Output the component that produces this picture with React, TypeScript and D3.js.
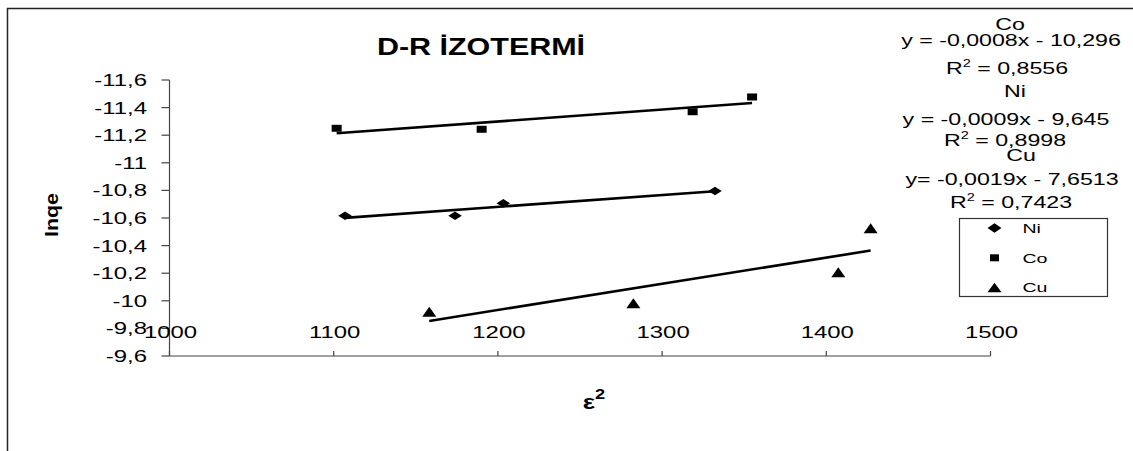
import React from "react";
import * as d3 from "d3";

// ---- data ----
const NI_X = [1106.9, 1173.9, 1203.3, 1332.2];
const NI_Y = [-10.617, -10.617, -10.706, -10.796];
const CO_X = [1101.8, 1190.1, 1318.6, 1354.8];
const CO_Y = [-11.25, -11.243, -11.37, -11.477];
const CU_X = [1158.2, 1282.5, 1407.3, 1427.0];
const CU_Y = [-9.921, -9.982, -10.207, -10.525];

const SERIES_NAMES = ["Ni", "Co", "Cu"];
const X_DOMAIN = [1000, 1500];
const Y_DOMAIN = [-11.6, -9.6];
const TITLE = "D-R İZOTERMİ";
const Y_LABEL = "lnqe";
const X_LABEL = "ε";

// trendline annotation text: [name, equation, r2]
const EQ_CO = ["Co", "y = -0,0008x - 10,296", "0,8556"];
const EQ_NI = ["Ni", "y = -0,0009x - 9,645", "0,8998"];
const EQ_CU = ["Cu", "y= -0,0019x - 7,6513", "0,7423"];

// ---- layout ----
const W = 1133, H = 451;
const FONT = "'Liberation Sans', Arial, sans-serif";
const SX = 1.45; // horizontal stretch of the original rendering

const locale = d3.formatLocale({ decimal: ",", thousands: ".", grouping: [3], currency: ["", ""], minus: "-" });
const fmt = locale.format("~g");

function regress(xs: number[], ys: number[]) {
  const mx = d3.mean(xs)!, my = d3.mean(ys)!;
  let sxy = 0, sxx = 0;
  xs.forEach((x, i) => { sxy += (x - mx) * (ys[i] - my); sxx += (x - mx) ** 2; });
  const m = sxy / sxx;
  return { m, b: my - m * mx };
}

function ST({ x, y, size, weight, anchor, sx, children }: any) {
  return (
    <text transform={`translate(${x},${y}) scale(${sx || SX},1)`} fontFamily={FONT} fontSize={size}
      fontWeight={weight || "normal"} textAnchor={anchor || "middle"} fill="#000">
      {children}
    </text>
  );
}

function markerPath(kind: string, cx: number, cy: number, w: number, h: number) {
  const hw = w / 2, hh = h / 2;
  if (kind === "diamond") return `M${cx - hw},${cy}L${cx},${cy - hh}L${cx + hw},${cy}L${cx},${cy + hh}Z`;
  if (kind === "square") return `M${cx - hw},${cy - hh}H${cx + hw}V${cy + hh}H${cx - hw}Z`;
  return `M${cx - hw},${cy + hh}L${cx},${cy - hh}L${cx + hw},${cy + hh}Z`;
}

export default function App() {
  const x = d3.scaleLinear().domain(X_DOMAIN).range([169.5, 990.5]);
  const y = d3.scaleLinear().domain(Y_DOMAIN).range([80, 356]);
  const xTicks = x.ticks(5);
  const yTicks = y.ticks(10);

  const series = [
    { name: SERIES_NAMES[0], xs: NI_X, ys: NI_Y, kind: "diamond", w: 13.5, h: 8.5 },
    { name: SERIES_NAMES[1], xs: CO_X, ys: CO_Y, kind: "square", w: 10, h: 7 },
    { name: SERIES_NAMES[2], xs: CU_X, ys: CU_Y, kind: "triangle", w: 14, h: 10 },
  ];
  const legendMarks = [
    { w: 14, h: 9.5 }, { w: 9, h: 7 }, { w: 14, h: 9.5 },
  ];

  const eqLines = [
    { t: EQ_CO, pos: [[1010, 29.5], [1011, 46], [1007, 74]] },
    { t: EQ_NI, pos: [[1015, 97], [1006, 125], [1005, 145.5]] },
    { t: EQ_CU, pos: [[1021, 161], [1012, 184.5], [1011, 208]] },
  ];

  const axisColor = "#444";

  return (
    <div style={{ position: "absolute", left: 0, top: 0 }}>
      <svg width={W} height={H} style={{ display: "block", background: "#fff" }}>
        <rect x={0} y={0} width={W} height={H} fill="#fff" />
        {/* outer chart border */}
        <rect x={7.5} y={8.5} width={1200} height={600} fill="none" stroke="#222" strokeWidth={1.5} />

        {/* title */}
        <ST x={481} y={55} size={24} sx={1.27} weight="bold">{TITLE}</ST>

        {/* y axis */}
        <line x1={x(X_DOMAIN[0])} x2={x(X_DOMAIN[0])} y1={y(Y_DOMAIN[0])} y2={y(Y_DOMAIN[1])} stroke={axisColor} strokeWidth={1.2} />
        {yTicks.map((t) => (
          <g key={"y" + t}>
            <line x1={x(X_DOMAIN[0]) - 8} x2={x(X_DOMAIN[0])} y1={y(t)} y2={y(t)} stroke={axisColor} strokeWidth={1.2} />
            <ST x={147} y={y(t) + 6} size={16.5} anchor="end">{fmt(t)}</ST>
          </g>
        ))}

        {/* x axis */}
        <line x1={x(X_DOMAIN[0])} x2={x(X_DOMAIN[1])} y1={y(Y_DOMAIN[1])} y2={y(Y_DOMAIN[1])} stroke={axisColor} strokeWidth={1.2} />
        {xTicks.map((t) => (
          <g key={"x" + t}>
            <line x1={x(t)} x2={x(t)} y1={y(Y_DOMAIN[1]) - 5} y2={y(Y_DOMAIN[1])} stroke={axisColor} strokeWidth={1.2} />
            <ST x={x(t) + 1} y={338} size={16.5}>{fmt(t)}</ST>
          </g>
        ))}

        {/* axis titles */}
        <text transform={`translate(58,215) rotate(-90) scale(1,1.2)`} fontFamily={FONT} fontSize={16}
          fontWeight="bold" textAnchor="middle" textLength={44} lengthAdjust="spacingAndGlyphs">{Y_LABEL}</text>
        <ST x={594} y={409} size={20} sx={1.3} weight="bold">
          {X_LABEL}<tspan dy={-10} fontSize={14}>2</tspan>
        </ST>

        {/* trendlines and markers */}
        {series.map((s) => {
          const { m, b } = regress(s.xs, s.ys);
          const x0 = d3.min(s.xs)!, x1 = d3.max(s.xs)!;
          return (
            <g key={s.name}>
              <line x1={x(x0)} y1={y(m * x0 + b)} x2={x(x1)} y2={y(m * x1 + b)} stroke="#000" strokeWidth={2.6} />
              {s.xs.map((xv, i) => (
                <path key={i} d={markerPath(s.kind, x(xv), y(s.ys[i]), s.w, s.h)} fill="#000" />
              ))}
            </g>
          );
        })}

        {/* equations */}
        {eqLines.map((e, k) => (
          <g key={"eq" + k}>
            <ST x={e.pos[0][0]} y={e.pos[0][1]} size={16}>{e.t[0]}</ST>
            <ST x={e.pos[1][0]} y={e.pos[1][1]} size={16}>{e.t[1]}</ST>
            <ST x={e.pos[2][0]} y={e.pos[2][1]} size={16}>
              R<tspan dy={-7} fontSize={10}>2</tspan><tspan dy={7}> = {e.t[2]}</tspan>
            </ST>
          </g>
        ))}

        {/* legend */}
        <rect x={959.5} y={218.5} width={148} height={78} fill="#fff" stroke="#333" strokeWidth={1.2} />
        {series.map((s, i) => {
          const cy = 228 + i * 29.8;
          return (
            <g key={"lg" + s.name}>
              <path d={markerPath(s.kind, 994.5, cy, legendMarks[i].w, legendMarks[i].h)} fill="#000" />
              <ST x={1022.5} y={cy + 4.8} size={13.5} anchor="start">{s.name}</ST>
            </g>
          );
        })}
      </svg>
    </div>
  );
}
